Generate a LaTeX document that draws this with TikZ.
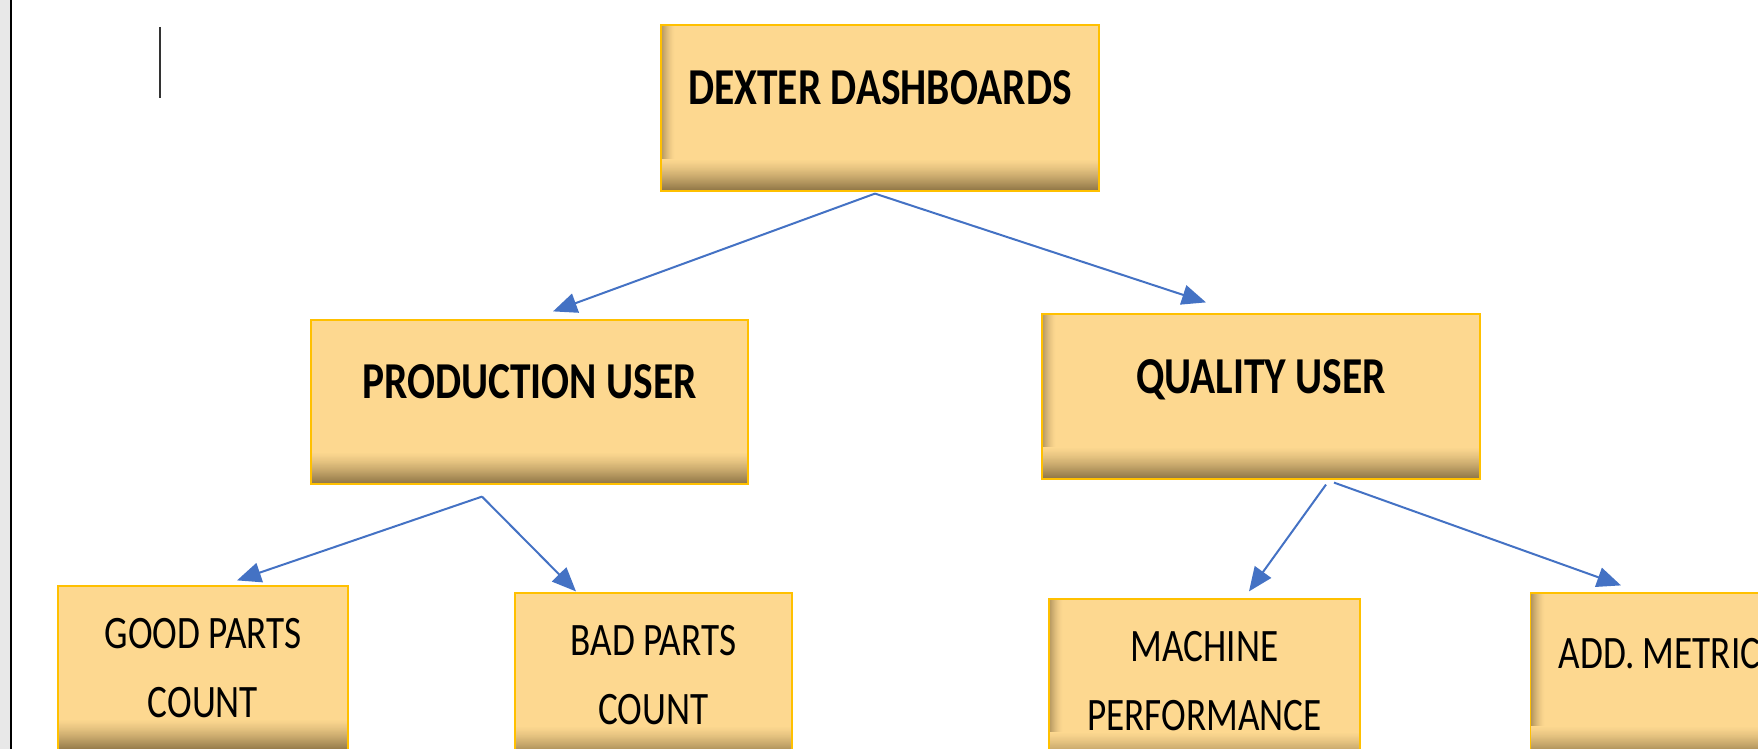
\documentclass[tikz,border=0pt]{standalone}
\usepackage{fontspec}
\usetikzlibrary{arrows.meta}
\newfontfamily\boxfont[FakeStretch=0.8]{Carlito}
\definecolor{boxfill}{HTML}{FDD890}
\definecolor{boxdark}{HTML}{80683C}
\definecolor{boxline}{HTML}{FFC000}
\definecolor{linkc}{HTML}{4472C4}
\colorlet{pagegray}{black!9}
% inner shadow of the cards, built from thin strips
\newcommand\cardbottom{%
  \foreach \i in {0,...,31} {
    \pgfmathtruncatemacro\pct{88*(1-\i/32)^1.3}
    \fill[boxdark!\pct!boxfill] ([yshift=\i*0.5pt]path picture bounding box.south west)
      rectangle ([yshift=\i*0.5pt+0.55pt]path picture bounding box.south east);
  }}
\newcommand\cardleft{%
  \foreach \i in {0,...,13} {
    \pgfmathtruncatemacro\pct{60*(1-\i/14)^1.5}
    \fill[boxdark!\pct!boxfill] ([xshift=\i*0.5pt]path picture bounding box.south west)
      rectangle ([xshift=\i*0.5pt+0.55pt]path picture bounding box.north west);
  }}
\tikzstyle{card} = [
  rectangle,
  draw=boxline,
  line width=0.6pt,
  fill=boxfill,
  inner sep=0pt,
  align=center,
  path picture={\cardbottom},
]
\tikzstyle{cardw} = [
  card,
  path picture={\cardleft\cardbottom},
]
\tikzstyle{head} = [font=\boxfont\bfseries\fontsize{25.9}{30}\selectfont, text depth=20pt]
\tikzstyle{leaf} = [font=\boxfont\fontsize{23.25}{34.5}\selectfont]
\tikzstyle{link} = [draw=linkc, line width=1pt, -{Triangle[length=12pt,width=10pt]}]

\begin{document}
\begin{tikzpicture}[x=0.5pt, y=-0.5pt]
      \useasboundingbox (0,0) rectangle (1758,749);
      \clip (0,0) rectangle (1758,749);

      % Page edge and cursor
      \fill[pagegray] (0,0) rectangle (10,749);
      \fill[black] (10,0) rectangle (12,749);
      \draw[black!80, line width=1pt] (160,27) -- (160,98);

      % Boxes
      \node[cardw, head, minimum width=219pt, minimum height=83pt] (dexter) at (880,108) {DEXTER DASHBOARDS};
      \node[card, head, minimum width=218.5pt, minimum height=82pt] (prod) at (529.5,402) {PRODUCTION USER};
      \node[cardw, head, minimum width=219pt, minimum height=82.5pt] (qual) at (1261,396.5) {QUALITY USER};

      \node[card, leaf, minimum width=145pt, minimum height=82.5pt] (good) at (203,668.5) {GOOD PARTS\\COUNT};
      \node[card, leaf, minimum width=138.5pt, minimum height=82.5pt] (bad) at (653.5,675.5) {BAD PARTS\\COUNT};
      \node[cardw, leaf, minimum width=155.5pt, minimum height=82.5pt] (mach) at (1204.5,681.5) {MACHINE\\PERFORMANCE};
      \node[cardw, leaf, anchor=west, inner xsep=14pt, minimum height=82.5pt, text depth=22pt] (add) at (1530,675.5) {ADD. METRIC};

      % Arrows
      \coordinate (dexter-out) at ([xshift=-2.5pt,yshift=-1pt]dexter.south);
      \coordinate (prod-out) at ([xshift=-23.75pt,yshift=-6pt]prod.south);
      \draw[link] (dexter-out) -- ([xshift=11.75pt,yshift=4pt]prod.north);
      \draw[link] (dexter-out) -- ([xshift=-27.5pt,yshift=5.5pt]qual.north);
      \draw[link] (prod-out) -- ([xshift=17pt,yshift=2.5pt]good.north);
      \draw[link] (prod-out) -- ([xshift=-38.75pt,yshift=0.5pt]bad.north);
      \draw[link] ([xshift=32.5pt,yshift=-2.5pt]qual.south) -- ([xshift=22.25pt,yshift=3.5pt]mach.north);
      \draw[link] ([xshift=36.5pt,yshift=-1.5pt]qual.south) -- ([xshift=45.5pt,yshift=3.5pt]add.north west);
\end{tikzpicture}
\end{document}
